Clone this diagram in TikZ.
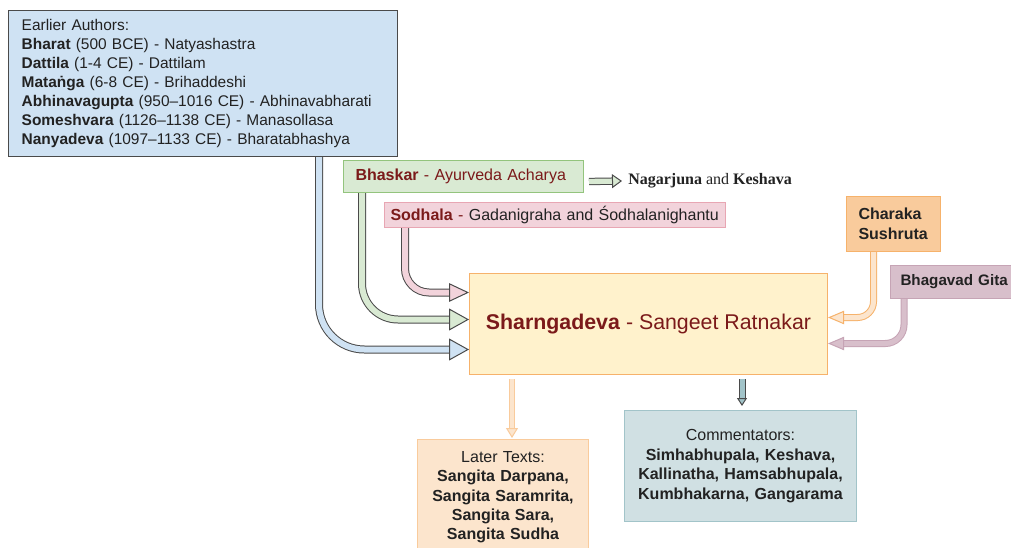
\documentclass[tikz,border=0pt]{standalone}
\usepackage{fontspec}
\setmainfont{Liberation Sans}
\newfontfamily\timesfont{Liberation Serif}
\usetikzlibrary{arrows.meta,calc}
\definecolor{authorsblue}{HTML}{CFE2F3}
\definecolor{bhaskargreen}{HTML}{D9EAD3}
\definecolor{greenline}{HTML}{93C47D}
\definecolor{sodhalapink}{HTML}{F2D3DB}
\definecolor{pinkline}{HTML}{E8A6B3}
\definecolor{mainyellow}{HTML}{FFF2CC}
\definecolor{orangeline}{HTML}{F6B26B}
\definecolor{charakaorange}{HTML}{F9CB9C}
\definecolor{gitamauve}{HTML}{D8BFCB}
\definecolor{mauveline}{HTML}{C6A4B5}
\definecolor{laterpeach}{HTML}{FCE5CD}
\definecolor{commentteal}{HTML}{D0E0E3}
\definecolor{tealline}{HTML}{A2C4C9}
\definecolor{arrowdark}{HTML}{4A4A4A}
\definecolor{titlered}{HTML}{7B1A1A}
\definecolor{textdark}{HTML}{222222}
\begin{document}
\begin{tikzpicture}[x = 0.75pt, y = -0.75pt,
                    srcbox/.style = {line width = 0.75pt,
                                     inner ysep = 0pt,
                                     text = textdark,
                                     anchor = north west,
                                     font = \fontsize{12}{14.25}\selectfont},
                    fatarrow/.style 2 args = {draw = #1,
                                              double = #2,
                                              line width = 0.75pt,
                                              double distance = 4.5pt,
                                              -{Triangle[line width = 0.75pt, fill = #2, length = 15pt, width = 16.5pt]}}]
	\clip (0,0) rectangle (1011,547);
	\fill[white] (0,0) rectangle (1011,547);
	% sources
	\node[srcbox, fill = authorsblue, draw = arrowdark, text width = 272pt, inner xsep = 9.9pt,
	      minimum height = 109.5pt, align = left, font = \fontsize{11.6}{14.25}\selectfont] (authors) at (8,10)
	     {Earlier Authors:\\
	      \textbf{Bharat} (500 BCE) - Natyashastra\\
	      \textbf{Dattila} (1-4 CE) - Dattilam\\
	      \textbf{Mataṅga} (6-8 CE) - Brihaddeshi\\
	      \textbf{Abhinavagupta} (950–1016 CE) - Abhinavabharati\\
	      \textbf{Someshvara} (1126–1138 CE) - Manasollasa\\
	      \textbf{Nanyadeva} (1097–1133 CE) - Bharatabhashya};
	\node[srcbox, fill = bhaskargreen, draw = greenline, text = titlered, text width = 162pt, inner xsep = 9pt,
	      minimum height = 24pt, align = left] (bhaskar) at (343,160)
	     {\textbf{Bhaskar} - Ayurveda Acharya};
	\node[anchor = west, inner sep = 0pt, text = textdark, font = \timesfont\fontsize{12}{14}\selectfont] (nagar) at (628,181)
	     {\textbf{Nagarjuna} and \textbf{Keshava}};
	\node[srcbox, fill = sodhalapink, draw = pinkline, text width = 246.75pt, inner xsep = 4.5pt,
	      minimum height = 18.75pt, align = left] (sodhala) at (384,202)
	     {{\color{titlered}\textbf{Sodhala} -} Gadanigraha and Śodhalanighantu};
	\node[srcbox, fill = charakaorange, draw = orangeline, text width = 52.5pt, inner xsep = 9pt,
	      minimum height = 41.25pt, align = left, font = \bfseries\fontsize{12}{15}\selectfont] (charaka) at (846,196)
	     {Charaka\\Sushruta};
	\node[srcbox, fill = gitamauve, draw = mauveline, text width = 86pt, inner xsep = 7.5pt,
	      minimum height = 24.75pt, align = left, font = \bfseries\fontsize{11.4}{14}\selectfont] (gita) at (890,265)
	     {Bhagavad Gita};
	% main work
	\node[srcbox, fill = mainyellow, draw = orangeline, text = titlered, minimum width = 268.5pt,
	      minimum height = 75.75pt, inner xsep = 0pt, font = \fontsize{16}{19}\selectfont] (main) at (469,273)
	     {\textbf{Sharngadeva} - Sangeet Ratnakar};
	% descendants
	\node[srcbox, fill = laterpeach, draw = charakaorange, text width = 120pt, inner xsep = 4.125pt,
	      minimum height = 87pt, align = center, font = \fontsize{12}{14.5}\selectfont] (later) at (417,439)
	     {Later Texts:\\
	      \textbf{Sangita Darpana,}\\
	      \textbf{Sangita Saramrita,}\\
	      \textbf{Sangita Sara,}\\
	      \textbf{Sangita Sudha}};
	\node[srcbox, fill = commentteal, draw = tealline, text width = 166pt, inner xsep = 4pt,
	      minimum height = 83.25pt, align = center, font = \fontsize{12}{14.6}\selectfont] (comment) at (624,410)
	     {Commentators:\\
	      \textbf{Simhabhupala, Keshava,}\\
	      \textbf{Kallinatha, Hamsabhupala,}\\
	      \textbf{Kumbhakarna, Gangarama}};
	% arrows into the main work
	\draw[fatarrow = {arrowdark}{authorsblue}, rounded corners = 34pt]
	     ($(authors.south west)+(311,0)$) |- ($(main.west)+(0,25.5)$);
	\draw[fatarrow = {arrowdark}{bhaskargreen}, rounded corners = 27pt]
	     ($(bhaskar.south west)+(19,0)$) |- ($(main.west)+(0,-4.5)$);
	\draw[fatarrow = {arrowdark}{sodhalapink}, rounded corners = 18pt,
	      -{Triangle[line width = 0.75pt, fill = sodhalapink, length = 15pt, width = 14pt]}]
	     ($(sodhala.south west)+(21,0)$) |- ($(main.west)+(0,-31.5)$);
	\draw[fatarrow = {orangeline}{laterpeach}, rounded corners = 12pt, double distance = 3.75pt,
	      -{Triangle[line width = 0.75pt, fill = laterpeach, length = 12pt, width = 10pt]}]
	     ($(charaka.south)+(-20,0)$) |- ($(main.east)+(0,-6.5)$);
	\draw[fatarrow = {mauveline}{gitamauve}, rounded corners = 14pt, double distance = 3.75pt,
	      -{Triangle[line width = 0.75pt, fill = gitamauve, length = 12pt, width = 10pt]}]
	     ($(gita.south west)+(14,0)$) |- ($(main.east)+(0,19.5)$);
	% arrows out of it
	\draw[fatarrow = {charakaorange}{laterpeach}, double distance = 3pt,
	      -{Triangle[line width = 0.75pt, fill = laterpeach, length = 7.5pt, width = 9pt]}]
	     ($(main.south west)+(43,4)$) -- ($(later.north west)+(95,-1)$);
	\draw[fatarrow = {arrowdark}{tealline}, double distance = 3.75pt,
	      -{Triangle[line width = 0.75pt, fill = tealline, length = 6pt, width = 7.5pt]}]
	     ($(main.south west)+(273,4)$) -- ($(comment.north west)+(118,-4)$);
	\draw[fatarrow = {arrowdark}{bhaskargreen}, double distance = 4pt,
	      -{Triangle[line width = 0.75pt, fill = bhaskargreen, length = 7.5pt, width = 10.5pt]}]
	     ($(bhaskar.east)+(5,5)$) -- ($(nagar.west)+(-6,0)$);
\end{tikzpicture}
\end{document}
